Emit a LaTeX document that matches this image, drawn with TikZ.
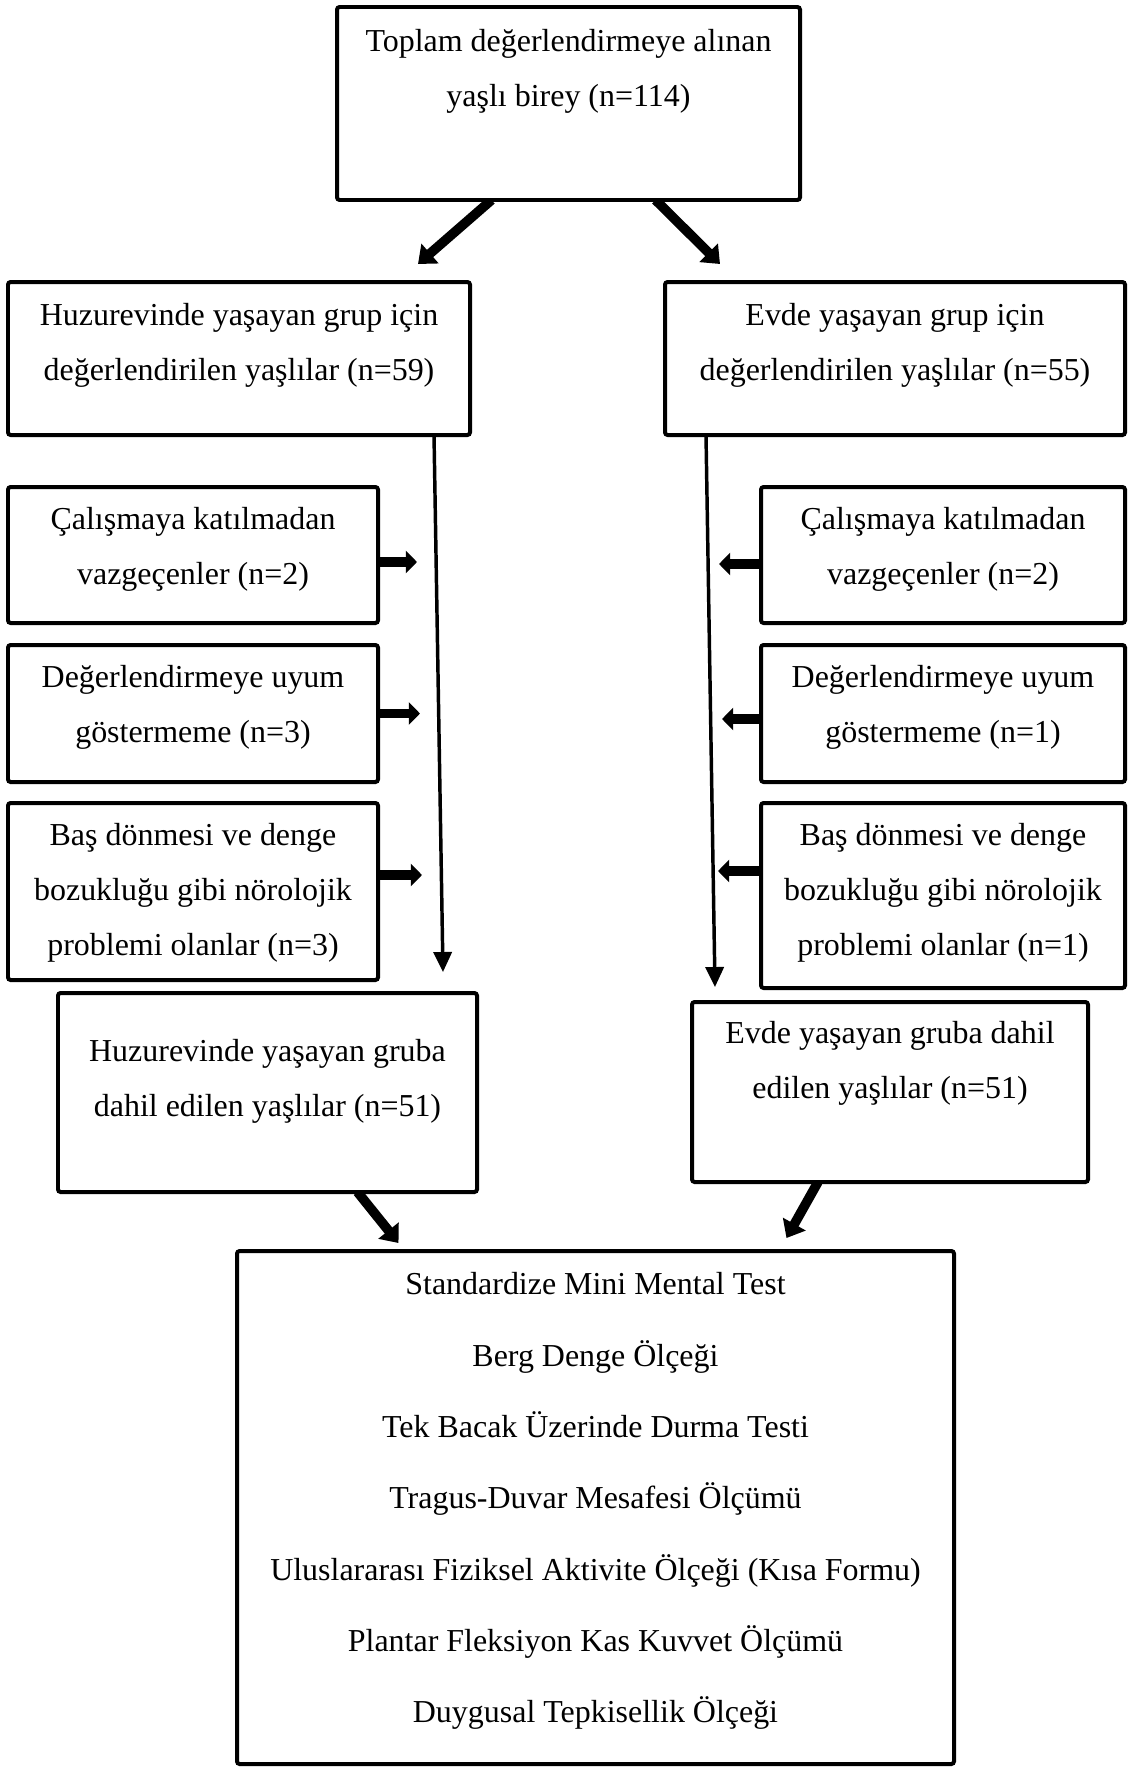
\documentclass[tikz,border=0pt]{standalone}
\usepackage{fontspec}
\setmainfont{Liberation Serif}
\usetikzlibrary{arrows.meta, positioning, backgrounds}
\newdimen\px \px=0.0132cm
\tikzset{
  frame/.style={draw, fill=white, line width=1.5pt, rounded corners=1pt, inner sep=0pt, outer sep=0pt},
  txt/.style={align=center, inner sep=0pt, font=\fontsize{12}{20.7}\selectfont,
    execute at begin node={\rule{0pt}{10.5pt}}},
  fatarrow/.style={line width=3.6pt, -{Triangle[width=9.5pt, length=6pt]}},
  sidearrow/.style={line width=3.4pt, -{Triangle[width=8.3pt, length=4.2pt]}},
  longarrow/.style={line width=1.3pt, -{Triangle[width=6.8pt, length=7.5pt]}}
}

\begin{document}
\begin{tikzpicture}[x=\px, y=-\px]
    \useasboundingbox (0,0) rectangle (1127,1767);

    % Boxes
    \node[frame, minimum width=463\px, minimum height=193\px] (toplam) at (568.5,103.5) {};
    \node[frame, minimum width=462\px, minimum height=153\px] (huz) at (239,358.5) {};
    \node[frame, minimum width=460\px, minimum height=153\px] (evde) at (895,358.5) {};
    \node[frame, minimum width=370\px, minimum height=136\px] (cal1) at (193,555) {};
    \node[frame, minimum width=370\px, minimum height=137\px] (uyum1) at (193,713.5) {};
    \node[frame, minimum width=370\px, minimum height=177\px] (bas1) at (193,891.5) {};
    \node[frame, minimum width=364\px, minimum height=136\px] (cal2) at (943,555) {};
    \node[frame, minimum width=364\px, minimum height=137\px] (uyum2) at (943,713.5) {};
    \node[frame, minimum width=364\px, minimum height=185\px] (bas2) at (943,895.5) {};
    \node[frame, minimum width=419\px, minimum height=199\px] (huzdahil) at (267.5,1092.5) {};
    \node[frame, minimum width=396\px, minimum height=180\px] (evdedahil) at (890,1092) {};
    \node[frame, minimum width=717\px, minimum height=513\px] (olcek) at (595.5,1507.5) {};

    % Texts
    \node[txt, below=22\px of toplam.north] (toplamtxt) {Toplam değerlendirmeye alınan\\yaşlı birey (n=114)};
    \node[txt, below=21\px of huz.north] (huztxt) {Huzurevinde yaşayan grup için\\değerlendirilen yaşlılar (n=59)};
    \node[txt, below=21\px of evde.north] (evdetxt) {Evde yaşayan grup için\\değerlendirilen yaşlılar (n=55)};
    \node[txt, below=20\px of cal1.north] (cal1txt) {Çalışmaya katılmadan\\vazgeçenler (n=2)};
    \node[txt, below=20\px of uyum1.north] (uyum1txt) {Değerlendirmeye uyum\\göstermeme (n=3)};
    \node[txt, below=20\px of bas1.north] (bas1txt) {Baş dönmesi ve denge\\bozukluğu gibi nörolojik\\problemi olanlar (n=3)};
    \node[txt, below=20\px of cal2.north] (cal2txt) {Çalışmaya katılmadan\\vazgeçenler (n=2)};
    \node[txt, below=20\px of uyum2.north] (uyum2txt) {Değerlendirmeye uyum\\göstermeme (n=1)};
    \node[txt, below=20\px of bas2.north] (bas2txt) {Baş dönmesi ve denge\\bozukluğu gibi nörolojik\\problemi olanlar (n=1)};
    \node[txt, below=46\px of huzdahil.north] (huzdahiltxt) {Huzurevinde yaşayan gruba\\dahil edilen yaşlılar (n=51)};
    \node[txt, below=19\px of evdedahil.north] (evdedahiltxt) {Evde yaşayan gruba dahil\\edilen yaşlılar (n=51)};
    \node[txt, below=21\px of olcek.north, font=\fontsize{12}{26.8}\selectfont] (olcektxt) {Standardize Mini Mental Test\\Berg Denge Ölçeği\\Tek Bacak Üzerinde Durma Testi\\Tragus-Duvar Mesafesi Ölçümü\\Uluslararası Fiziksel Aktivite Ölçeği (Kısa Formu)\\Plantar Fleksiyon Kas Kuvvet Ölçümü\\Duygusal Tepkisellik Ölçeği};

    % Arrows
    \begin{scope}[on background layer]
        \draw[fatarrow] ([xshift=-77\px]toplam.south) -- ([xshift=179\px, yshift=18\px]huz.north);
        \draw[fatarrow] ([xshift=87\px]toplam.south) -- ([xshift=-175\px, yshift=18\px]evde.north);
        \draw[fatarrow] ([xshift=90\px]huzdahil.south) -- ([xshift=-197\px, yshift=8\px]olcek.north);
        \draw[fatarrow] ([xshift=-72\px]evdedahil.south) -- ([xshift=191\px, yshift=13\px]olcek.north);
    \end{scope}
    \draw[longarrow] ([xshift=195\px]huz.south) -- ([xshift=250\px, yshift=8\px]bas1.south);
    \draw[longarrow] ([xshift=-189\px]evde.south) -- ([xshift=-228\px, yshift=1\px]bas2.south);
    \foreach \b/\dy/\len in {cal1/-7/39, uyum1/0/42, bas1/16.5/44}
        \draw[sidearrow] ([yshift=\dy\px]\b.east) -- ++(\len,0);
    \foreach \b/\dy/\len in {cal2/-9/42, uyum2/-5.5/39, bas2/24.5/43}
        \draw[sidearrow] ([yshift=\dy\px]\b.west) -- ++(-\len,0);
\end{tikzpicture}
\end{document}
